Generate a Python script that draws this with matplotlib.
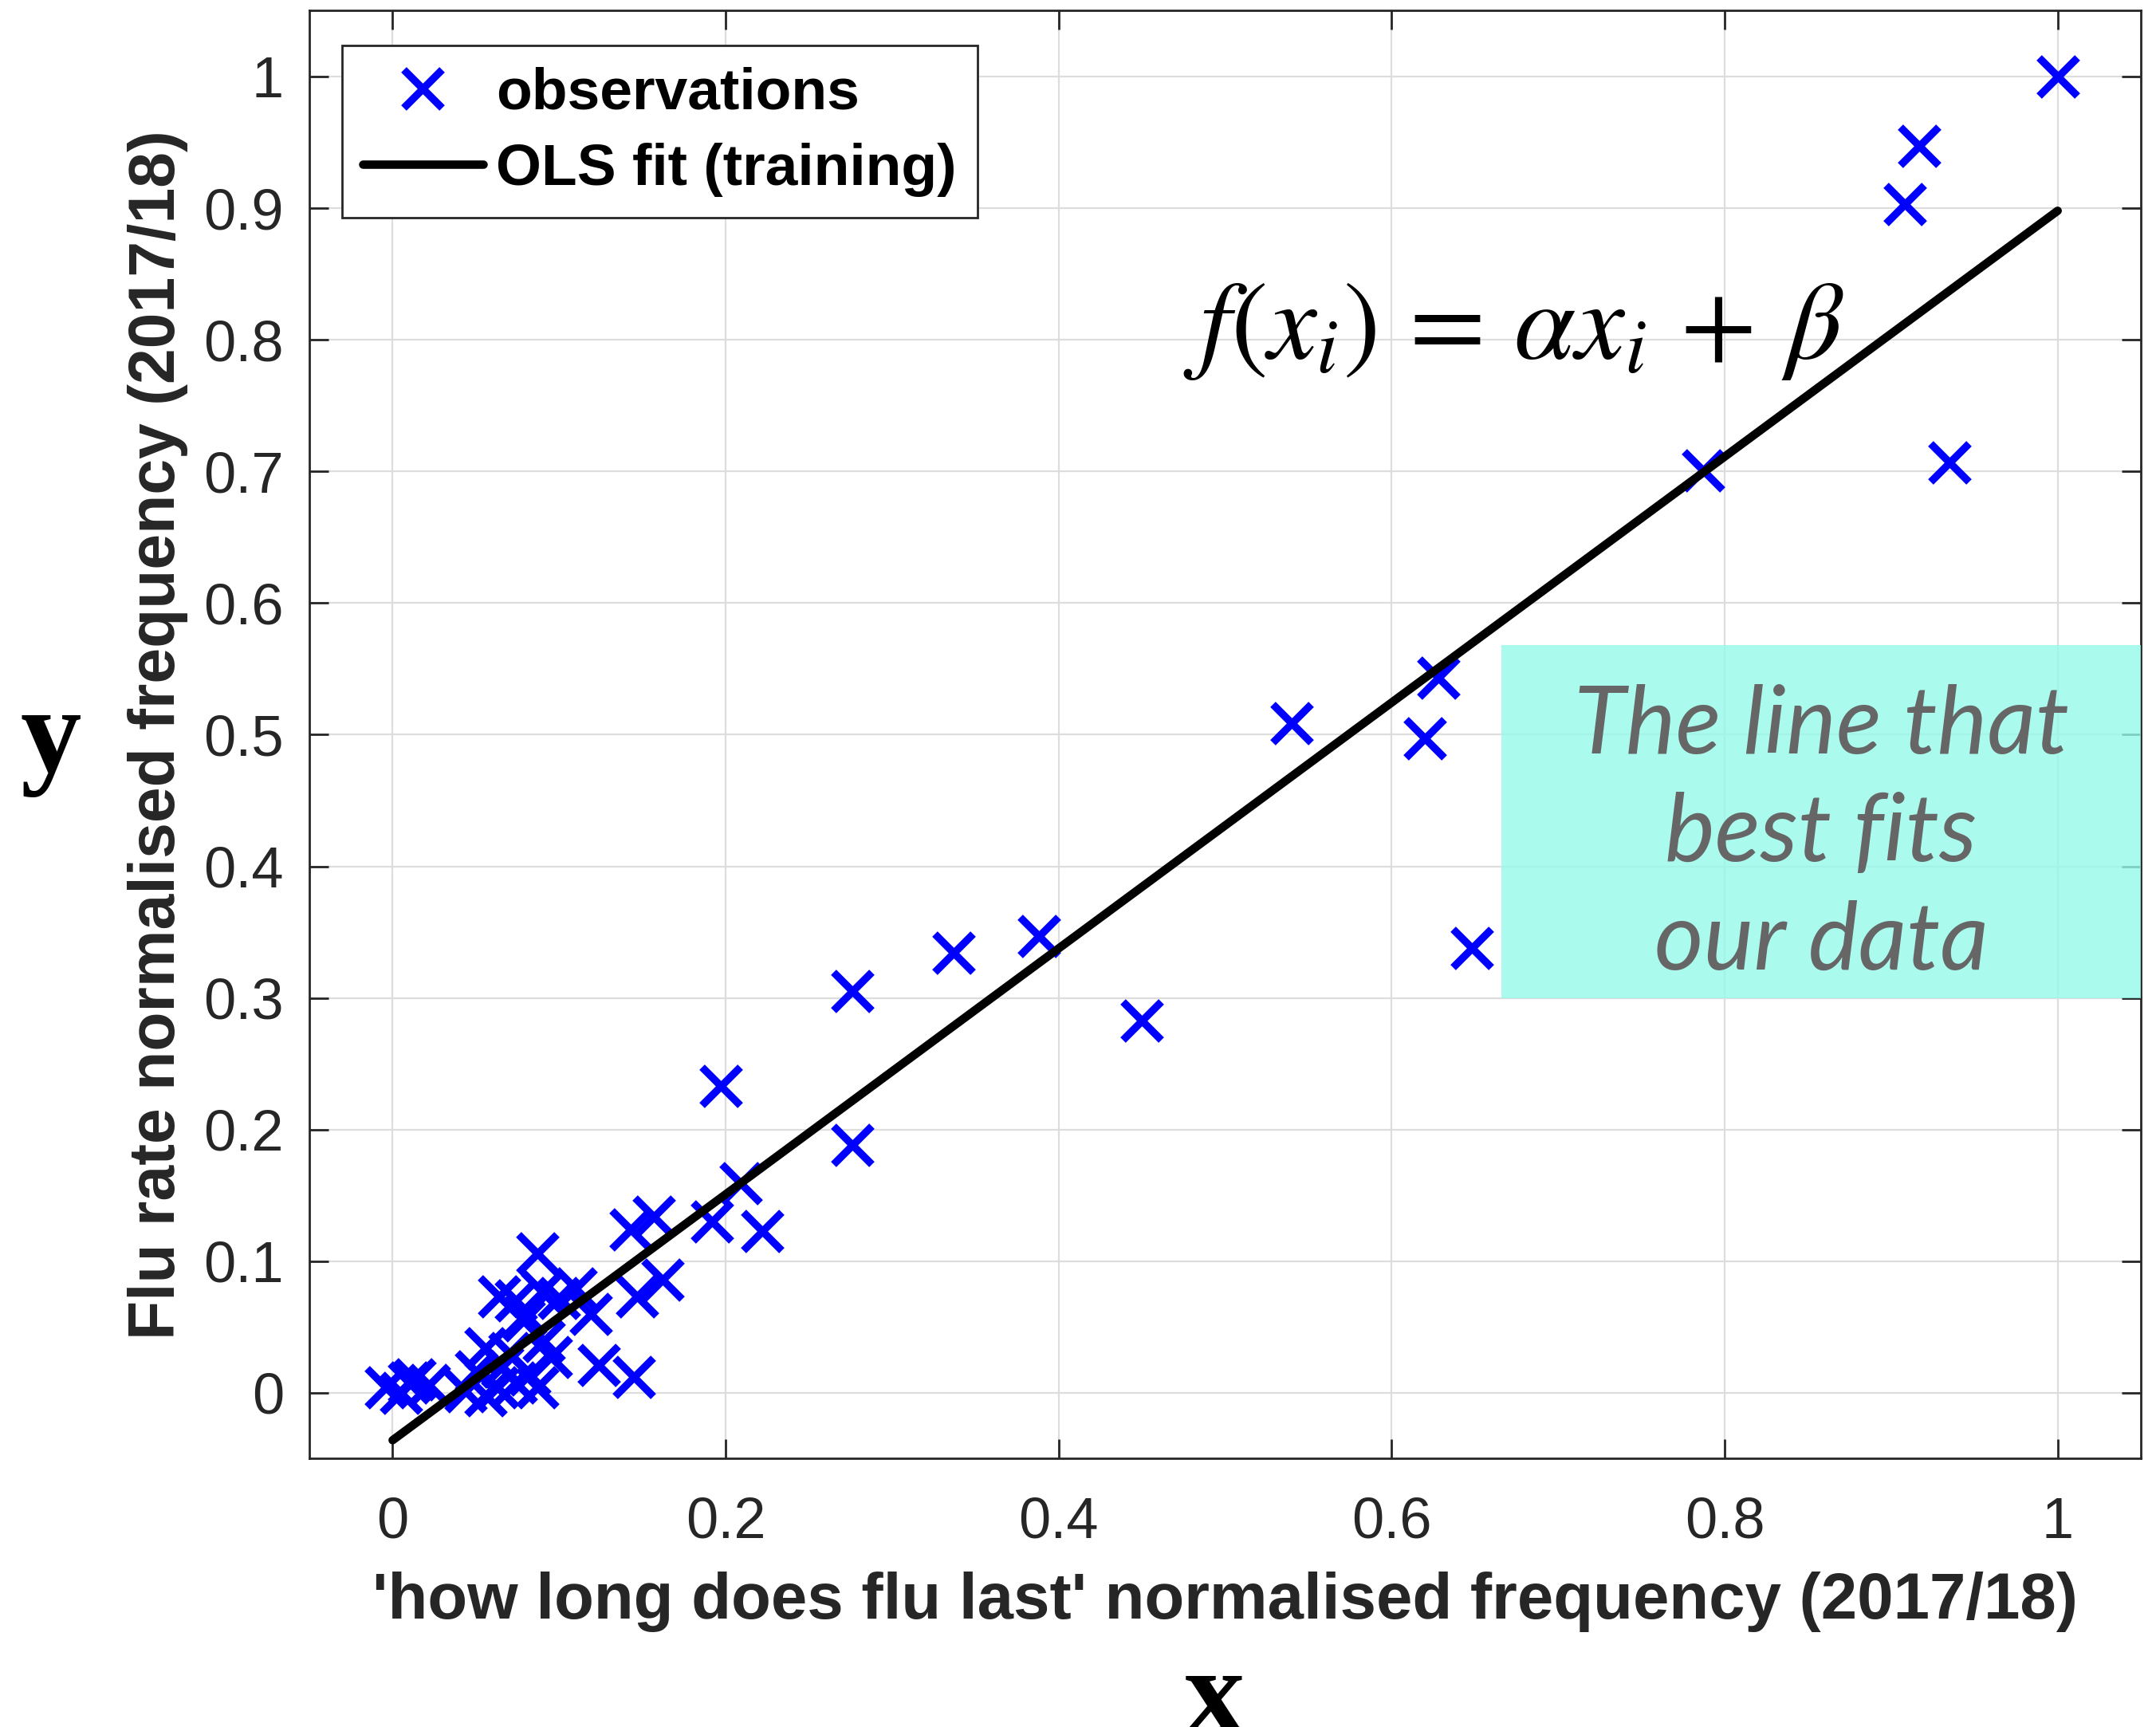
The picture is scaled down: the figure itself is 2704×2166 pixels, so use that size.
import numpy as np
import matplotlib.pyplot as plt
from matplotlib.patches import Rectangle

# observations (x: query frequency, y: flu rate)
x_obs = [1.000, 0.917, 0.908, 0.935, 0.787, 0.628, 0.620, 0.540, 0.648, 0.450,
         0.388, 0.337, 0.276, 0.276, 0.197, 0.209, 0.222, 0.192, 0.143, 0.157,
         0.162, 0.147, 0.119, 0.124, 0.145,
         0.087, 0.110, 0.100, 0.064, 0.074, 0.090, 0.080, 0.091, 0.079, 0.056,
         0.050, 0.044, 0.056, 0.063, 0.074, 0.082, 0.087, 0.095, 0.066, 0.070,
         -0.004, 0.005, 0.010, 0.013, 0.022]
y_obs = [1.000, 0.947, 0.903, 0.707, 0.701, 0.543, 0.497, 0.509, 0.338, 0.283,
         0.347, 0.334, 0.305, 0.188, 0.233, 0.159, 0.123, 0.130, 0.124, 0.134,
         0.086, 0.073, 0.060, 0.021, 0.012,
         0.106, 0.079, 0.072, 0.073, 0.070, 0.077, 0.059, 0.039, 0.055, 0.034,
         0.016, 0.001, -0.002, 0.004, 0.008, 0.014, 0.004, 0.027, 0.020, 0.030,
         0.004, 0.000, 0.008, 0.010, 0.006]

# OLS fit
fit_alpha = 0.934
fit_beta = -0.036
fit_x = np.array([0.0, 1.0])

x_ticks = [0, 0.2, 0.4, 0.6, 0.8, 1]
y_ticks = [0, 0.1, 0.2, 0.3, 0.4, 0.5, 0.6, 0.7, 0.8, 0.9, 1]
x_tick_labels = ['0', '0.2', '0.4', '0.6', '0.8', '1']
y_tick_labels = ['0', '0.1', '0.2', '0.3', '0.4', '0.5', '0.6', '0.7', '0.8', '0.9', '1']

plt.rcParams['font.family'] = ['Liberation Sans', 'DejaVu Sans']
plt.rcParams['mathtext.fontset'] = 'stix'

fig = plt.figure(figsize=(13.52, 10.83), dpi=200)
ax = fig.add_axes([0.1435, 0.1554, 0.8495, 0.8384])

ax.plot(x_obs, y_obs, linestyle='none', marker='x', color=(0, 0, 1),
        markersize=17, markeredgewidth=3.4, label='observations', zorder=3)
ax.plot(fit_x, fit_alpha * fit_x + fit_beta, color='k', linewidth=3.8,
        solid_capstyle='round', label='OLS fit (training)', zorder=4)

# highlighted note box
ax.add_patch(Rectangle((0.666, 0.300), 1.05 - 0.666, 0.268, facecolor='#95f9ea',
                       edgecolor='none', alpha=0.8, zorder=2.6, clip_on=False))
ax.text(0.858, 0.424, 'The line that\nbest fits\nour data', family='Lato',
        style='italic', fontsize=42.7, color='#666666', ha='center', va='center',
        multialignment='center', linespacing=1.33, zorder=5)

ax.text(0.673, 0.786, r'$f(x_i)\,=\,\alpha x_i\,+\,\beta$', fontsize=50,
        ha='center', va='baseline', color='k', zorder=5)

ax.set_xlim(-0.05, 1.05)
ax.set_ylim(-0.05, 1.05)
ax.set_xticks(x_ticks)
ax.set_xticklabels(x_tick_labels)
ax.set_yticks(y_ticks)
ax.set_yticklabels(y_tick_labels)
ax.grid(True, color='#dddddd', linewidth=0.8)
ax.set_axisbelow(True)

for sp in ax.spines.values():
    sp.set_color('#262626')
    sp.set_linewidth(1.0)
ax.tick_params(direction='in', length=8.6, width=1.0, color='#262626',
               labelcolor='#262626', labelsize=26, top=True, right=True)
ax.tick_params(axis='x', pad=17)
ax.tick_params(axis='y', pad=11.5)

ax.set_xlabel("'how long does flu last' normalised frequency (2017/18)",
              fontsize=29.4, fontweight='bold', color='#262626')
ax.set_ylabel('Flu rate normalised frequency (2017/18)',
              fontsize=29, fontweight='bold', color='#262626')
ax.xaxis.set_label_coords(0.5, -0.078)
ax.yaxis.set_label_coords(-0.066, 0.5)

leg = ax.legend(loc='upper left', bbox_to_anchor=(0.0178, 0.976), borderaxespad=0,
                fancybox=False, framealpha=1, edgecolor='#262626',
                prop={'weight': 'bold', 'size': 26.4}, handlelength=2.05,
                handletextpad=0.22, labelspacing=0.37, borderpad=0.36)
leg.get_frame().set_linewidth(1.0)

# big serif axis names
fig.text(64 / 2704, 1 - 931 / 2166, 'y', family='Liberation Serif', fontweight='bold',
         fontsize=55, ha='center', va='center')
fig.text(1523 / 2704, 1 - 2066 / 2166, 'x', family='Liberation Serif', fontweight='bold',
         fontsize=55, ha='center', va='top')

fig.savefig('out.png', dpi=200)
